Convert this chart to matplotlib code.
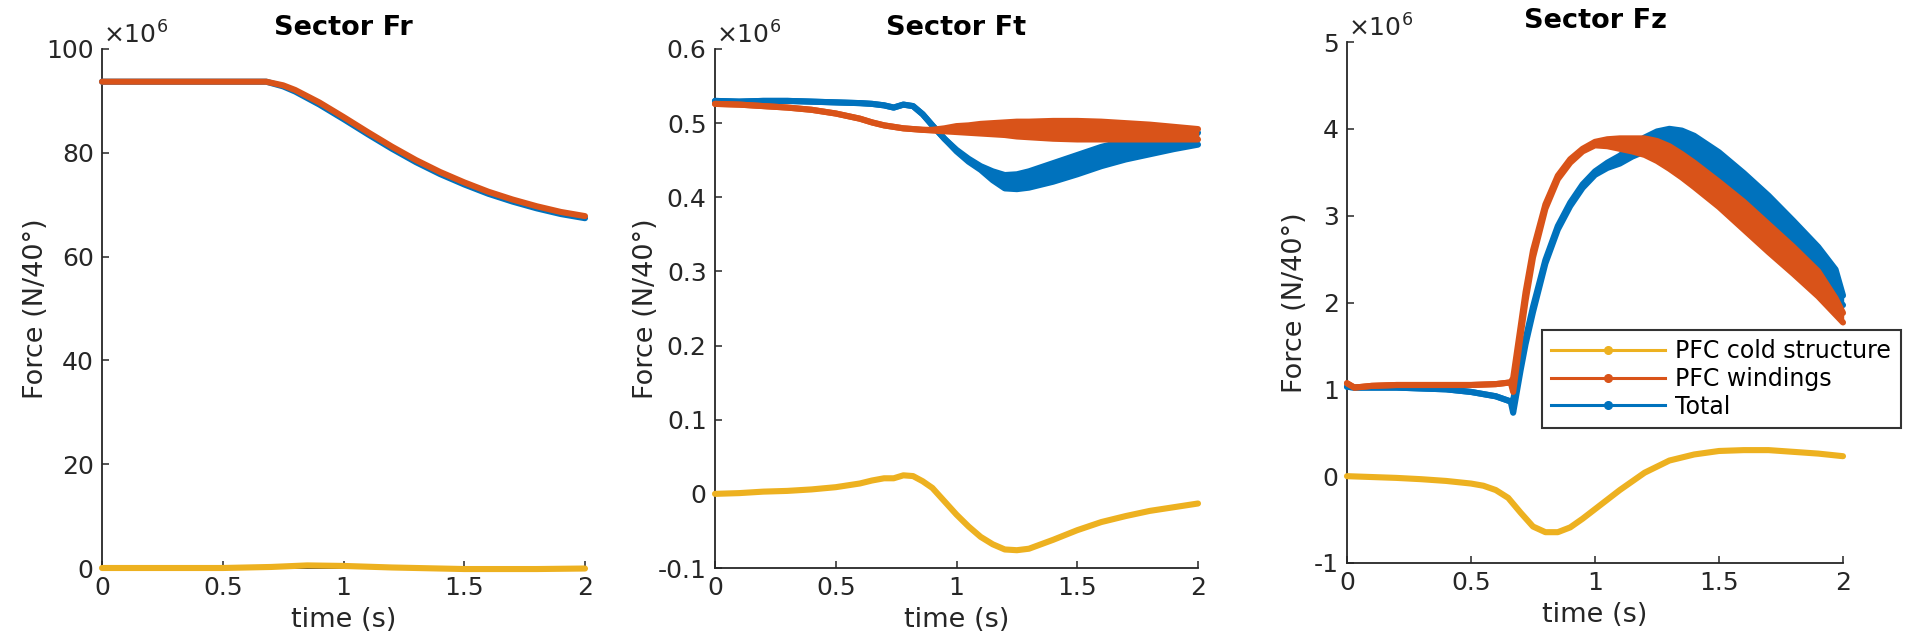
import matplotlib
matplotlib.use("Agg")
import matplotlib.pyplot as plt
from matplotlib.lines import Line2D

plt.rcParams['font.family'] = ['DejaVu Sans']
plt.rcParams['axes.unicode_minus'] = False

C_TOT = '#0072BD'
C_WIND = '#D95319'
C_COLD = '#EDB120'
TXT = '#262626'

# ---------------- Sector Fr (x10^6 N/40deg) ----------------
fr_t = [0.0, 0.68, 0.75, 0.8, 0.9, 1.0, 1.1, 1.2, 1.3, 1.4, 1.5, 1.6, 1.7, 1.8, 1.9, 2.0]
fr_wind = [93.7, 93.7, 93.0, 92.1, 89.7, 86.9, 84.0, 81.2, 78.6, 76.3, 74.3, 72.5, 71.0, 69.7, 68.6, 67.8]
fr_total = [93.7, 93.7, 92.8, 91.8, 89.3, 86.5, 83.6, 80.8, 78.2, 75.9, 73.9, 72.1, 70.6, 69.3, 68.2, 67.4]
fr_cold_t = [0.0, 0.5, 0.7, 0.85, 1.0, 1.2, 1.5, 1.8, 2.0]
fr_cold = [0.0, 0.0, 0.2, 0.5, 0.4, 0.1, -0.2, -0.2, -0.1]

# ---------------- Sector Ft (x10^6 N/40deg) ----------------
ft_t = [0.0, 0.1, 0.2, 0.3, 0.4, 0.5, 0.6, 0.65, 0.7, 0.74, 0.78, 0.82, 0.86, 0.9, 0.95,
        1.0, 1.05, 1.1, 1.15, 1.2, 1.25, 1.3, 1.4, 1.5, 1.6, 1.7, 1.8, 1.9, 2.0]
ft_total_hi = [0.530, 0.529, 0.530, 0.530, 0.529, 0.528, 0.527, 0.526, 0.524, 0.521, 0.525, 0.523,
               0.512, 0.497, 0.479, 0.464, 0.452, 0.442, 0.435, 0.430, 0.431, 0.435, 0.446, 0.457,
               0.468, 0.476, 0.481, 0.485, 0.487]
ft_total_lo = [0.530, 0.529, 0.530, 0.530, 0.529, 0.528, 0.527, 0.526, 0.524, 0.521, 0.525, 0.523,
               0.512, 0.497, 0.479, 0.462, 0.448, 0.437, 0.423, 0.412, 0.411, 0.413, 0.421, 0.431,
               0.442, 0.451, 0.458, 0.465, 0.471]
ft_wind_hi = [0.526, 0.525, 0.523, 0.521, 0.518, 0.513, 0.506, 0.501, 0.497, 0.495, 0.493, 0.492,
              0.491, 0.491, 0.493, 0.496, 0.497, 0.499, 0.500, 0.501, 0.502, 0.502, 0.503, 0.503,
              0.502, 0.500, 0.498, 0.495, 0.492]
ft_wind_lo = [0.526, 0.525, 0.523, 0.521, 0.518, 0.513, 0.506, 0.501, 0.497, 0.495, 0.493, 0.492,
              0.491, 0.490, 0.489, 0.488, 0.487, 0.486, 0.485, 0.484, 0.482, 0.481, 0.479, 0.478,
              0.478, 0.478, 0.478, 0.478, 0.478]
ft_cold = [0.000, 0.001, 0.003, 0.004, 0.006, 0.009, 0.014, 0.018, 0.021, 0.021, 0.025, 0.024,
           0.017, 0.008, -0.010, -0.028, -0.044, -0.058, -0.068, -0.075, -0.076, -0.074, -0.062,
           -0.049, -0.038, -0.030, -0.023, -0.018, -0.013]

# ---------------- Sector Fz (x10^6 N/40deg) ----------------
fz_t = [0.0, 0.03, 0.1, 0.2, 0.3, 0.4, 0.5, 0.6, 0.66, 0.67, 0.70, 0.72, 0.75, 0.8, 0.85, 0.9,
        0.95, 1.0, 1.05, 1.1, 1.15, 1.2, 1.25, 1.3, 1.35, 1.4, 1.5, 1.6, 1.7, 1.8, 1.9, 1.97, 2.0]
fz_wind_hi = [1.07, 1.02, 1.04, 1.05, 1.05, 1.05, 1.05, 1.06, 1.08, 1.13, 1.72, 2.12, 2.60, 3.13,
              3.46, 3.65, 3.77, 3.85, 3.88, 3.89, 3.89, 3.89, 3.86, 3.80, 3.71, 3.61, 3.39, 3.16,
              2.90, 2.64, 2.36, 2.05, 1.88]
fz_wind_lo = [1.07, 1.02, 1.04, 1.05, 1.05, 1.05, 1.05, 1.06, 1.08, 0.97, 1.62, 2.02, 2.52, 3.08,
              3.42, 3.61, 3.74, 3.81, 3.80, 3.77, 3.74, 3.70, 3.63, 3.54, 3.44, 3.33, 3.10, 2.84,
              2.58, 2.33, 2.07, 1.86, 1.77]
fz_total_hi = [1.03, 1.02, 1.02, 1.02, 1.01, 1.00, 0.97, 0.92, 0.86, 0.88, 1.30, 1.58, 1.95, 2.49,
               2.88, 3.15, 3.36, 3.51, 3.61, 3.69, 3.80, 3.90, 3.97, 4.00, 3.98, 3.92, 3.73, 3.49,
               3.23, 2.94, 2.64, 2.38, 2.08]
fz_total_lo = [1.03, 1.02, 1.02, 1.02, 1.01, 1.00, 0.97, 0.92, 0.86, 0.73, 1.22, 1.52, 1.89, 2.45,
               2.84, 3.11, 3.32, 3.47, 3.55, 3.60, 3.68, 3.74, 3.77, 3.76, 3.70, 3.60, 3.37, 3.11,
               2.84, 2.56, 2.28, 2.06, 1.97]
fz_cold_t = [0.0, 0.1, 0.2, 0.3, 0.4, 0.5, 0.55, 0.6, 0.65, 0.7, 0.75, 0.8, 0.85, 0.9, 0.95, 1.0,
             1.1, 1.2, 1.3, 1.4, 1.5, 1.6, 1.7, 1.8, 1.9, 2.0]
fz_cold = [0.0, -0.01, -0.02, -0.035, -0.055, -0.085, -0.11, -0.16, -0.25, -0.42, -0.58, -0.645,
           -0.645, -0.59, -0.49, -0.38, -0.16, 0.04, 0.18, 0.25, 0.29, 0.30, 0.30, 0.28, 0.26, 0.23]

titles = ['Sector Fr', 'Sector Ft', 'Sector Fz']
legend_labels = ['PFC cold structure', 'PFC windings', 'Total']
x_ticks = [0, 0.5, 1, 1.5, 2]
x_tick_labels = ['0', '0.5', '1', '1.5', '2']
fr_yticks = [0, 20, 40, 60, 80, 100]
ft_yticks = [-0.1, 0, 0.1, 0.2, 0.3, 0.4, 0.5, 0.6]
ft_yticklabels = ['-0.1', '0', '0.1', '0.2', '0.3', '0.4', '0.5', '0.6']
fz_yticks = [-1, 0, 1, 2, 3, 4, 5]

LW = 4.4


def band(ax, t, hi, lo, color, z):
    ax.fill_between(t, lo, hi, facecolor=color, edgecolor=color, lw=1.0,
                    clip_on=False, zorder=z)
    for v in (hi, lo):
        ax.plot(t, v, color=color, lw=LW, solid_capstyle='round', solid_joinstyle='round',
                clip_on=False, zorder=z)


def line(ax, t, v, color, z):
    ax.plot(t, v, color=color, lw=LW, solid_capstyle='round', solid_joinstyle='round',
            clip_on=False, zorder=z)


fig = plt.figure(figsize=(19.09, 6.37), dpi=100)
W, H = 1909, 637
boxes = [(102, 49, 585, 568), (715, 49, 1198, 568), (1347, 42, 1843, 563)]
axes = []
for (l, t, r, b) in boxes:
    ax = fig.add_axes([l / W, 1 - b / H, (r - l) / W, (b - t) / H])
    axes.append(ax)

ax1, ax2, ax3 = axes

line(ax1, fr_t, fr_total, C_TOT, 2)
line(ax1, fr_t, fr_wind, C_WIND, 3)
line(ax1, fr_cold_t, fr_cold, C_COLD, 4)
ax1.set_ylim(0, 100)
ax1.set_yticks(fr_yticks)
ax1.set_yticklabels([str(v) for v in fr_yticks])

band(ax2, ft_t, ft_total_hi, ft_total_lo, C_TOT, 2)
band(ax2, ft_t, ft_wind_hi, ft_wind_lo, C_WIND, 3)
line(ax2, ft_t, ft_cold, C_COLD, 4)
ax2.set_ylim(-0.1, 0.6)
ax2.set_yticks(ft_yticks)
ax2.set_yticklabels(ft_yticklabels)

band(ax3, fz_t, fz_total_hi, fz_total_lo, C_TOT, 2)
band(ax3, fz_t, fz_wind_hi, fz_wind_lo, C_WIND, 3)
line(ax3, fz_cold_t, fz_cold, C_COLD, 4)
ax3.set_ylim(-1, 5)
ax3.set_yticks(fz_yticks)
ax3.set_yticklabels([str(v) for v in fz_yticks])

ylabel_pads = [-2, -1, 4]
for ax, title, lp in zip(axes, titles, ylabel_pads):
    ax.set_xlim(0, 2)
    ax.set_xticks(x_ticks)
    ax.set_xticklabels(x_tick_labels)
    for s in ['top', 'right']:
        ax.spines[s].set_visible(False)
    for s in ['left', 'bottom']:
        ax.spines[s].set_color(TXT)
        ax.spines[s].set_linewidth(1.3)
        ax.spines[s].set_zorder(1)
    ax.tick_params(direction='in', length=5, width=1.1, colors=TXT, labelsize=18, pad=6)
    ax.set_xlabel('time (s)', fontsize=19.5, color=TXT, labelpad=5)
    ax.set_ylabel('Force (N/40°)', fontsize=19.5, color=TXT, labelpad=lp)
    ax.set_title(title, fontsize=19.5, fontweight='bold', pad=10)
    ax.annotate(r'$\times10^{6}$', xy=(0, 1), xycoords='axes fraction', xytext=(1, 4),
                textcoords='offset points', ha='left', va='baseline', fontsize=18, color=TXT)

handles = [Line2D([], [], color=c, lw=2.2, marker='.', markersize=11)
           for c in (C_COLD, C_WIND, C_TOT)]
leg = ax3.legend(handles, legend_labels, loc='upper left',
                 bbox_to_anchor=(1542 / W, 1 - 330 / H), bbox_transform=fig.transFigure,
                 fontsize=17, frameon=True, fancybox=False, borderaxespad=0,
                 handlelength=4.8, handletextpad=0.45, labelspacing=0.15, borderpad=0.4)
leg.set_zorder(10)
leg.get_frame().set_edgecolor('#000000')
leg.get_frame().set_linewidth(1.5)
for txt in leg.get_texts():
    txt.set_color('#000000')

fig.savefig('out.png', dpi=100)
